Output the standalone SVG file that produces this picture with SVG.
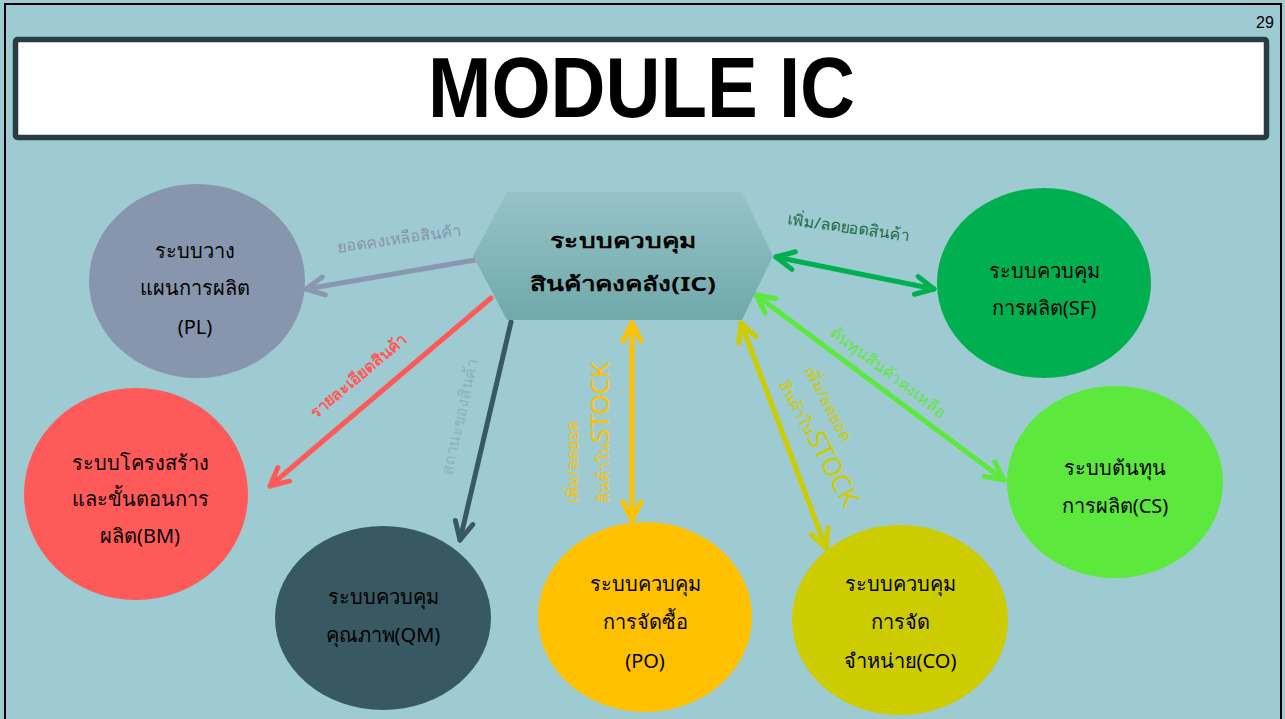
<svg xmlns="http://www.w3.org/2000/svg" width="1285" height="719" viewBox="0 0 1285 719">
<style>
.node text{font-family:"Noto Sans","Liberation Sans",sans-serif;font-size:20px;fill:#000;text-anchor:middle}
.lbl{font-family:"Noto Sans","Liberation Sans",sans-serif;font-size:16px}
.con line{stroke-width:5;stroke-linecap:round;fill:none}
</style>
<defs>
<linearGradient id="hexg" x1="0" y1="0" x2="0" y2="1">
<stop offset="0" stop-color="#96c3c6"/>
<stop offset="1" stop-color="#70a9ab"/>
</linearGradient>
<marker id="mPL" viewBox="0 0 24 24" refX="21" refY="12" markerWidth="24" markerHeight="24" markerUnits="userSpaceOnUse" orient="auto-start-reverse" overflow="visible"><path d="M3,3 L21,12 L3,21" fill="none" stroke="#8a96b2" stroke-width="5" stroke-linecap="round" stroke-linejoin="round"/></marker>
<marker id="mBM" viewBox="0 0 24 24" refX="21" refY="12" markerWidth="24" markerHeight="24" markerUnits="userSpaceOnUse" orient="auto-start-reverse" overflow="visible"><path d="M3,3 L21,12 L3,21" fill="none" stroke="#ff5a5a" stroke-width="5" stroke-linecap="round" stroke-linejoin="round"/></marker>
<marker id="mQM" viewBox="0 0 24 24" refX="21" refY="12" markerWidth="24" markerHeight="24" markerUnits="userSpaceOnUse" orient="auto-start-reverse" overflow="visible"><path d="M3,3 L21,12 L3,21" fill="none" stroke="#385862" stroke-width="5" stroke-linecap="round" stroke-linejoin="round"/></marker>
<marker id="mPO" viewBox="0 0 24 24" refX="21" refY="12" markerWidth="24" markerHeight="24" markerUnits="userSpaceOnUse" orient="auto-start-reverse" overflow="visible"><path d="M3,3 L21,12 L3,21" fill="none" stroke="#ffc000" stroke-width="5" stroke-linecap="round" stroke-linejoin="round"/></marker>
<marker id="mCO" viewBox="0 0 24 24" refX="21" refY="12" markerWidth="24" markerHeight="24" markerUnits="userSpaceOnUse" orient="auto-start-reverse" overflow="visible"><path d="M3,3 L21,12 L3,21" fill="none" stroke="#cccc00" stroke-width="5" stroke-linecap="round" stroke-linejoin="round"/></marker>
<marker id="mCS" viewBox="0 0 24 24" refX="21" refY="12" markerWidth="24" markerHeight="24" markerUnits="userSpaceOnUse" orient="auto-start-reverse" overflow="visible"><path d="M3,3 L21,12 L3,21" fill="none" stroke="#5ce83c" stroke-width="5" stroke-linecap="round" stroke-linejoin="round"/></marker>
<marker id="mSF" viewBox="0 0 24 24" refX="21" refY="12" markerWidth="24" markerHeight="24" markerUnits="userSpaceOnUse" orient="auto-start-reverse" overflow="visible"><path d="M3,3 L21,12 L3,21" fill="none" stroke="#00b050" stroke-width="5" stroke-linecap="round" stroke-linejoin="round"/></marker>
</defs>

<rect x="0" y="0" width="1285" height="719" fill="#9ecbd1"/>
<rect x="5" y="4" width="1276" height="722" fill="none" stroke="#000" stroke-width="2"/>

<g id="title">
<rect x="15.5" y="39.5" width="1251" height="98" rx="2" fill="#fff" stroke="#263d44" stroke-width="5.5"/>
<text x="641.5" y="117" font-family="'Liberation Sans',Arial,sans-serif" font-weight="bold" font-size="86" text-anchor="middle" textLength="427" lengthAdjust="spacingAndGlyphs">MODULE IC</text>
</g>
<text id="pagenum" x="1265" y="28" font-family="'Liberation Sans',Arial,sans-serif" font-size="16" text-anchor="middle">29</text>

<g id="connectors" class="con">
<line x1="475" y1="260" x2="306" y2="289" stroke="#8a96b2" marker-end="url(#mPL)"/>
<line x1="491" y1="298" x2="270" y2="486" stroke="#ff5a5a" marker-end="url(#mBM)"/>
<line x1="511" y1="322" x2="460" y2="540" stroke="#385862" marker-end="url(#mQM)"/>
<line x1="632" y1="323" x2="632" y2="520" stroke="#ffc000" marker-start="url(#mPO)" marker-end="url(#mPO)"/>
<line x1="741" y1="323" x2="826" y2="548" stroke="#cccc00" marker-start="url(#mCO)" marker-end="url(#mCO)"/>
<line x1="756" y1="295" x2="1004" y2="480" stroke="#5ce83c" marker-start="url(#mCS)" marker-end="url(#mCS)"/>
<line x1="776" y1="257" x2="934" y2="289" stroke="#00b050" marker-start="url(#mSF)" marker-end="url(#mSF)"/>
</g>

<g id="labels">
<text class="lbl" transform="translate(400,244) rotate(-8)" text-anchor="middle" fill="#8794b0">ยอดคงเหลือสินค้า</text>
<text class="lbl" transform="translate(848,233) rotate(8)" text-anchor="middle" fill="#1d6a45" font-size="17">เพิ่ม/ลดยอดสินค้า</text>
<text class="lbl" transform="translate(362,380) rotate(-40)" text-anchor="middle" fill="#ff5a5a" font-weight="bold" font-size="17">รายละเอียดสินค้า</text>
<text class="lbl" transform="translate(465,418) rotate(-77)" text-anchor="middle" fill="#88b4bb" font-size="15">สถานะของสินค้า</text>
<text class="lbl" transform="translate(578,503) rotate(-90)" fill="#ffc000">เพิ่ม/ลดยอด</text>
<text class="lbl" transform="translate(609,503) rotate(-90)" fill="#ffc000">สินค้าใน<tspan font-size="26">STOCK</tspan></text>
<text class="lbl" transform="translate(804,370) rotate(62)" fill="#cccc00">เพิ่ม/ลดยอด</text>
<text class="lbl" transform="translate(778,384) rotate(62)" fill="#cccc00">สินค้าใน<tspan font-size="26">STOCK</tspan></text>
<text class="lbl" transform="translate(885,377) rotate(37)" text-anchor="middle" fill="#5ce83c" font-size="17">ต้นทุนสินค้าคงเหลือ</text>
</g>

<g id="IC" class="node">
<polygon points="473,256 507,192 742,192 773,256 742,320 507,320" fill="url(#hexg)"/>
<text x="623" y="248" font-weight="bold" font-size="27" textLength="146" lengthAdjust="spacingAndGlyphs">ระบบควบคุม</text>
<text x="623" y="291" font-weight="bold" font-size="27" textLength="186" lengthAdjust="spacingAndGlyphs">สินค้าคงคลัง(IC)</text>
</g>

<g id="PL" class="node">
<ellipse cx="197" cy="281" rx="108" ry="97" fill="#8796ad"/>
<text x="195" y="258">ระบบวาง</text>
<text x="195" y="295">แผนการผลิต</text>
<text x="195" y="334">(PL)</text>
</g>

<g id="BM" class="node">
<ellipse cx="136" cy="494" rx="112" ry="106" fill="#ff5a5a"/>
<text x="140" y="470">ระบบโครงสร้าง</text>
<text x="140" y="506">และขั้นตอนการ</text>
<text x="140" y="543">ผลิต(BM)</text>
</g>

<g id="QM" class="node">
<ellipse cx="383" cy="618" rx="108" ry="92" fill="#385862"/>
<text x="383" y="604">ระบบควบคุม</text>
<text x="383" y="642">คุณภาพ(QM)</text>
</g>

<g id="PO" class="node">
<ellipse cx="645" cy="617" rx="107" ry="95" fill="#ffc000"/>
<text x="645" y="591">ระบบควบคุม</text>
<text x="645" y="629">การจัดซื้อ</text>
<text x="645" y="668">(PO)</text>
</g>

<g id="CO" class="node">
<ellipse cx="900" cy="620" rx="108" ry="95" fill="#cccc00"/>
<text x="900" y="591">ระบบควบคุม</text>
<text x="900" y="629">การจัด</text>
<text x="900" y="668">จำหน่าย(CO)</text>
</g>

<g id="CS" class="node">
<ellipse cx="1115" cy="482" rx="108" ry="96" fill="#5ce83c"/>
<text x="1115" y="475">ระบบต้นทุน</text>
<text x="1115" y="513">การผลิต(CS)</text>
</g>

<g id="SF" class="node">
<ellipse cx="1044" cy="283" rx="107" ry="95" fill="#00b050"/>
<text x="1044" y="278">ระบบควบคุม</text>
<text x="1044" y="315">การผลิต(SF)</text>
</g>
</svg>
